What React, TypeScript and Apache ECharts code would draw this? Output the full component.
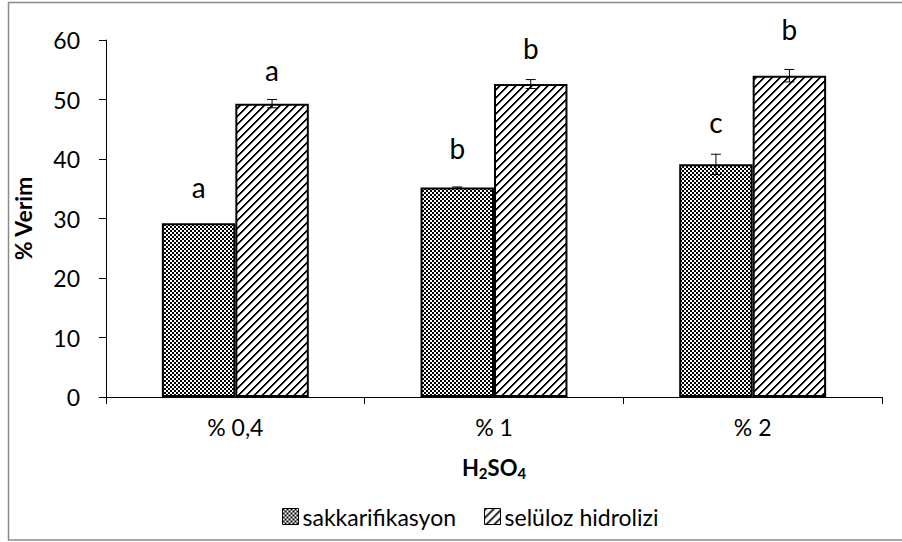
import React, { useEffect, useRef } from "react";
import * as echarts from "echarts";

// ---- data ----
const categories = ["% 0,4", "% 1", "% 2"];
const seriesNames = ["sakkarifikasyon", "selüloz hidrolizi"];
const sakkValues = [29.2, 35.2, 39.1];
const sakkErrors = [0, 0.1, 1.7];
const selValues = [49.3, 52.6, 54.0];
const selErrors = [0.7, 0.75, 1.05];
const sakkLetters = ["a", "b", "c"];
const selLetters = ["a", "b", "b"];
const yMin = 0;
const yMax = 60;
const yStep = 10;

// ---- layout ----
const FONT = "Lato, 'Open Sans', sans-serif";
const BAR_RATIO = 0.284;
const sakkLetterGap = [22, 25, 18];
const selLetterGap = [16, 18, 26];

function makePattern(kind: "check" | "diag") {
  const n = kind === "check" ? 4 : 8;
  const c = document.createElement("canvas");
  c.width = n;
  c.height = n;
  const ctx = c.getContext("2d")!;
  ctx.fillStyle = "#fff";
  ctx.fillRect(0, 0, n, n);
  for (let y = 0; y < n; y++) {
    for (let x = 0; x < n; x++) {
      if (kind === "check") {
        if (((x >> 1) + (y >> 1)) % 2 === 0) {
          ctx.fillStyle = "#000";
          ctx.fillRect(x, y, 1, 1);
        }
      } else {
        const m = (x + y) % 8;
        if (m === 0 || m === 1) {
          ctx.fillStyle = "#000";
          ctx.fillRect(x, y, 1, 1);
        } else if (m === 2) {
          ctx.fillStyle = "#999";
          ctx.fillRect(x, y, 1, 1);
        }
      }
    }
  }
  return {
    image: c.toDataURL(),
    repeat: "repeat",
    imageWidth: n,
    imageHeight: n,
  } as any;
}

export default function App() {
  const ref = useRef<HTMLDivElement>(null);
  useEffect(() => {
    if (!ref.current) return;
    const chart = echarts.init(ref.current, undefined, { renderer: "svg" });
    const checkPat = makePattern("check");
    const diagPat = makePattern("diag");

    const errSeries = (
      name: string,
      values: number[],
      errors: number[],
      letters: string[],
      gaps: number[],
      sign: number
    ) => ({
      type: "custom",
      name: name + "-err",
      z: 10,
      silent: true,
      data: values.map((v, i) => [i, v, errors[i]]),
      encode: { x: 0, y: 1 },
      renderItem: (params: any, api: any) => {
        const ci = api.value(0);
        const v = api.value(1);
        const e = api.value(2);
        const band = api.size([1, 0])[0];
        const bw = band * BAR_RATIO;
        const c = api.coord([ci, v]);
        const x = c[0] + (sign * bw) / 2;
        const top = api.coord([ci, v + e])[1];
        const bot = api.coord([ci, v - e])[1];
        const lineStyle = { stroke: "#000", lineWidth: 1 };
        const children: any[] = [];
        if (e > 0) {
          children.push(
            { type: "line", shape: { x1: x, y1: top, x2: x, y2: bot }, style: lineStyle },
            { type: "line", shape: { x1: x - 5, y1: top, x2: x + 5, y2: top }, style: lineStyle },
            { type: "line", shape: { x1: x - 5, y1: bot, x2: x + 5, y2: bot }, style: lineStyle }
          );
        }
        children.push({
          type: "text",
          style: {
            text: letters[params.dataIndex],
            x,
            y: top - gaps[params.dataIndex],
            align: "center",
            verticalAlign: "bottom",
            fontSize: 28,
            fontFamily: FONT,
            fill: "#000",
          },
        });
        return { type: "group", children };
      },
    });

    chart.setOption({
      animation: false,
      backgroundColor: "#fff",
      textStyle: { fontFamily: FONT, color: "#000" },
      graphic: [
        {
          type: "rect",
          shape: { x: 8.5, y: 2.5, width: 905, height: 537.5 },
          style: { fill: "none", stroke: "#8a8a8a", lineWidth: 1.5 },
          silent: true,
          z: -10,
        },
      ],
      grid: { left: 106, right: 20, top: 40, bottom: 145, containLabel: false },
      legend: {
        data: seriesNames,
        left: 277,
        top: 500,
        itemWidth: 16,
        itemHeight: 16,
        itemGap: 28,
        icon: "rect",
        itemStyle: { borderColor: "#000", borderWidth: 1 },
        textStyle: { fontSize: 23, fontFamily: FONT, color: "#000", padding: [0, 0, 0, -1] },
      },
      xAxis: {
        type: "category",
        data: categories,
        name: "{b|H}{s|2}{b|SO}{s|4}",
        nameLocation: "middle",
        nameGap: 58,
        nameTextStyle: {
          rich: {
            b: { fontSize: 22, fontWeight: "bold", fontFamily: FONT, color: "#000" },
            s: { fontSize: 15, fontWeight: "bold", fontFamily: FONT, color: "#000", padding: [10, 0, 0, 0] },
          },
        },
        axisLine: { lineStyle: { color: "#000", width: 1 } },
        axisTick: { show: true, length: 7, lineStyle: { color: "#000" } },
        axisLabel: { fontSize: 23, color: "#000", fontFamily: FONT, margin: 18 },
      },
      yAxis: {
        type: "value",
        min: yMin,
        max: yMax,
        interval: yStep,
        name: "% Verim",
        nameLocation: "middle",
        nameGap: 60,
        nameRotate: 90,
        nameTextStyle: { fontSize: 23, fontWeight: "bold", fontFamily: FONT, color: "#000", padding: [0, 0, 12, 0] },
        axisLine: { show: true, lineStyle: { color: "#000", width: 1 } },
        axisTick: { show: true, length: 7, lineStyle: { color: "#000" } },
        axisLabel: { fontSize: 23, color: "#000", fontFamily: FONT, margin: 26 },
        splitLine: { show: false },
      },
      series: [
        {
          type: "bar",
          name: seriesNames[0],
          data: sakkValues,
          barWidth: BAR_RATIO * 100 + "%",
          barGap: "0%",
          itemStyle: { color: checkPat, borderColor: "#000", borderWidth: 2 },
        },
        {
          type: "bar",
          name: seriesNames[1],
          data: selValues,
          barWidth: BAR_RATIO * 100 + "%",
          barGap: "0%",
          itemStyle: { color: diagPat, borderColor: "#000", borderWidth: 2 },
        },
        errSeries(seriesNames[0], sakkValues, sakkErrors, sakkLetters, sakkLetterGap, -1),
        errSeries(seriesNames[1], selValues, selErrors, selLetters, selLetterGap, 1),
      ],
    });
    return () => chart.dispose();
  }, []);
  return (
    <div
      ref={ref}
      style={{ position: "absolute", left: 0, top: 0, width: 902, height: 542 }}
    />
  );
}
